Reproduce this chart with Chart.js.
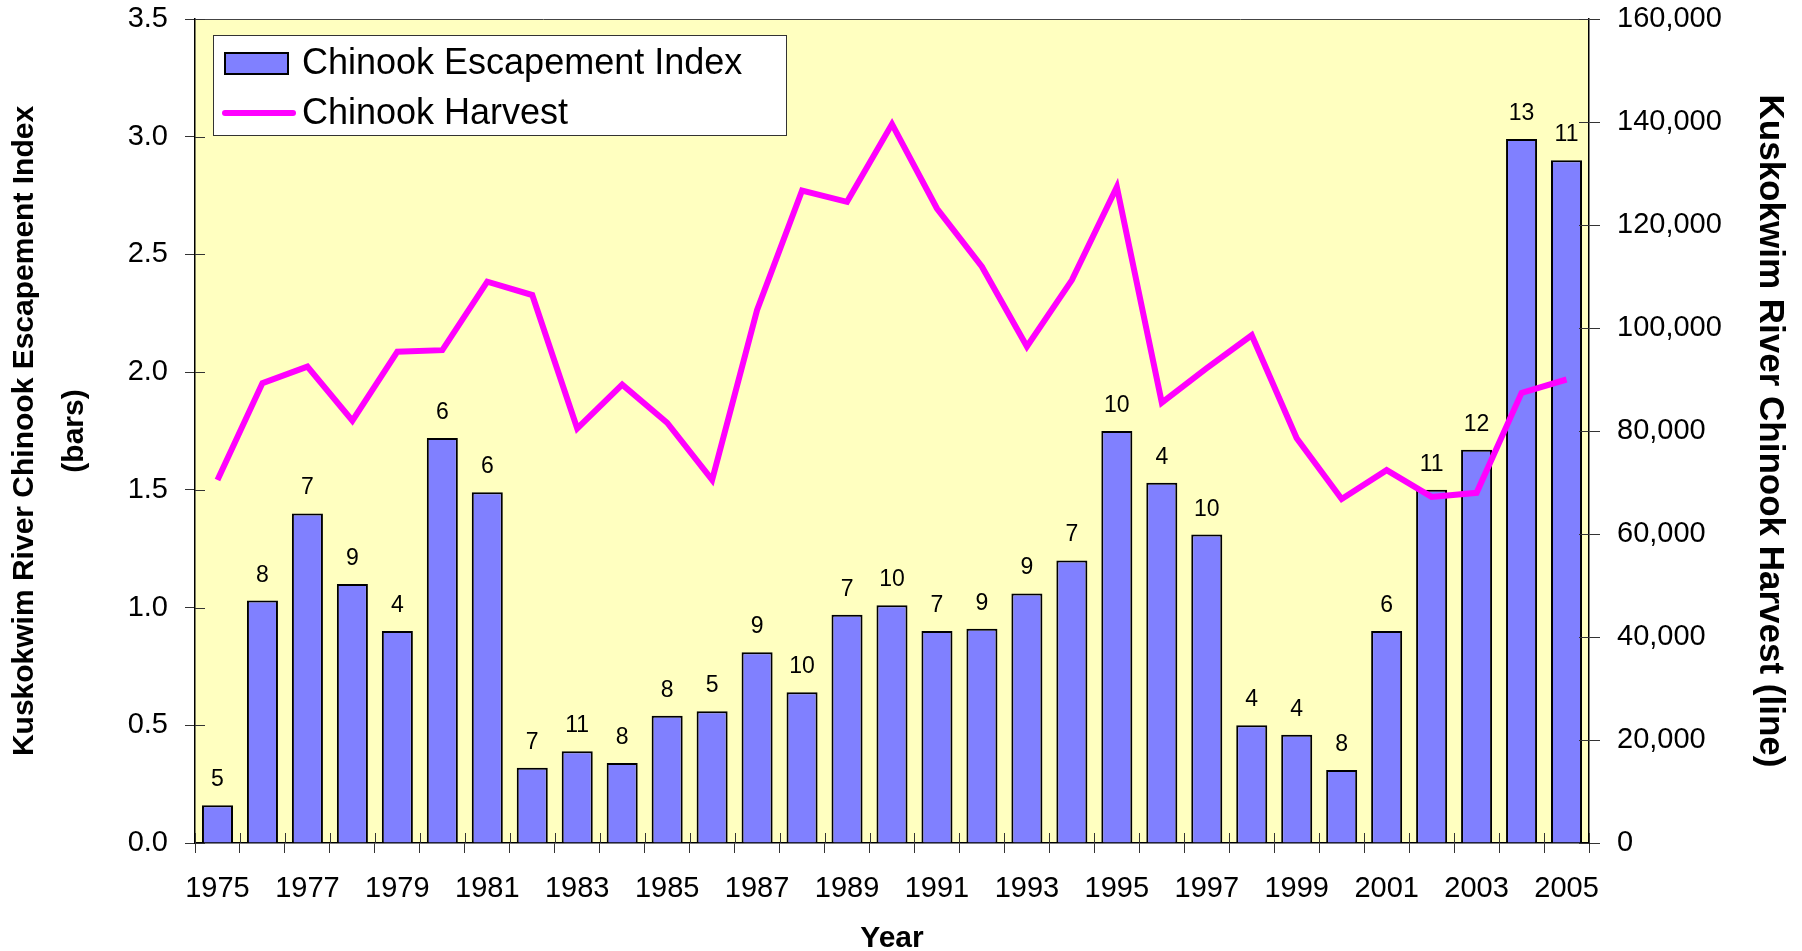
<!DOCTYPE html>
<html>
<head>
<meta charset="utf-8">
<title>Kuskokwim River Chinook</title>
<script src="https://cdn.jsdelivr.net/npm/chart.js@4.4.0/dist/chart.umd.min.js"></script>
<style>
    body { margin: 0; background: #ffffff; }
    #chart { display: block; }
</style>
</head>
<body>
<canvas id="chart" width="1802" height="951"></canvas>
<script>
var years = ['1975', '1976', '1977', '1978', '1979', '1980', '1981', '1982', '1983', '1984',
    '1985', '1986', '1987', '1988', '1989', '1990', '1991', '1992', '1993', '1994',
    '1995', '1996', '1997', '1998', '1999', '2000', '2001', '2002', '2003', '2004', '2005'];
var escapementIndex = [0.16, 1.03, 1.40, 1.10, 0.90, 1.72, 1.49, 0.32, 0.39, 0.34,
    0.54, 0.56, 0.81, 0.64, 0.97, 1.01, 0.90, 0.91, 1.06, 1.20,
    1.75, 1.53, 1.31, 0.50, 0.46, 0.31, 0.90, 1.50, 1.67, 2.99, 2.90];
var barLabels = [5, 8, 7, 9, 4, 6, 6, 7, 11, 8, 8, 5, 9, 10, 7, 10, 7, 9, 9, 7,
    10, 4, 10, 4, 4, 8, 6, 11, 12, 13, 11];
var harvest = [70500, 89300, 92500, 82000, 95400, 95700, 109000, 106400, 80500, 89000,
    81600, 70500, 103500, 126700, 124500, 139600, 123200, 111900, 96400, 109300,
    127400, 85500, 92200, 98600, 78600, 66800, 72400, 67200, 68000, 87400, 90000];
var leftTicks = [0, 0.5, 1.0, 1.5, 2.0, 2.5, 3.0, 3.5];
var rightTicks = [0, 20000, 40000, 60000, 80000, 100000, 120000, 140000, 160000];

var barColor = '#8080ff';
var lineColor = '#ff00ff';
var fontFamily = '"Liberation Sans", Arial, sans-serif';

// keep the y axes from pushing the plot area down
function noScalePadding(scale) {
    scale.paddingTop = 0;
    scale.paddingBottom = 0;
}

// yellow plot background and top border
var plotBackground = {
    id: 'plotBackground',
    beforeDraw: function (chart) {
        var ctx = chart.ctx, a = chart.chartArea;
        ctx.save();
        ctx.fillStyle = '#ffffc0';
        ctx.fillRect(a.left, a.top, a.right - a.left, a.bottom - a.top);
        ctx.strokeStyle = '#444444';
        ctx.lineWidth = 1;
        ctx.beginPath();
        ctx.moveTo(a.left, a.top + 0.5);
        ctx.lineTo(a.right, a.top + 0.5);
        ctx.stroke();
        ctx.restore();
    }
};

// ticks reaching into the plot area as well (cross ticks)
var innerTicks = {
    id: 'innerTicks',
    afterDraw: function (chart) {
        var ctx = chart.ctx, a = chart.chartArea;
        var x = chart.scales.x, y = chart.scales.y, y1 = chart.scales.y1;
        ctx.save();
        ctx.strokeStyle = '#333333';
        ctx.lineWidth = 1;
        ctx.beginPath();
        var step = x.getPixelForValue(1) - x.getPixelForValue(0);
        for (var i = 0; i <= years.length; i++) {
            var px = Math.round(x.getPixelForValue(i) - step / 2) + 0.5;
            ctx.moveTo(px, a.bottom);
            ctx.lineTo(px, a.bottom - 10);
        }
        y.ticks.forEach(function (t) {
            var py = Math.round(y.getPixelForValue(t.value)) + 0.5;
            ctx.moveTo(a.left, py);
            ctx.lineTo(a.left + 10, py);
        });
        y1.ticks.forEach(function (t) {
            var py = Math.round(y1.getPixelForValue(t.value)) + 0.5;
            ctx.moveTo(a.right, py);
            ctx.lineTo(a.right - 10, py);
        });
        ctx.stroke();
        ctx.restore();
    }
};

// numbers above the bars
var barNumbers = {
    id: 'barNumbers',
    afterDatasetsDraw: function (chart) {
        var ctx = chart.ctx;
        var meta = chart.getDatasetMeta(0);
        ctx.save();
        ctx.fillStyle = '#000000';
        ctx.font = '23px ' + fontFamily;
        ctx.textAlign = 'center';
        ctx.textBaseline = 'alphabetic';
        meta.data.forEach(function (bar, i) {
            ctx.fillText(String(barLabels[i]), bar.x, bar.y - 19);
        });
        ctx.restore();
    }
};

// boxed legend in the upper left of the plot
var boxLegend = {
    id: 'boxLegend',
    afterDraw: function (chart) {
        var ctx = chart.ctx, a = chart.chartArea;
        var bx = a.left + 18, by = a.top + 16;
        ctx.save();
        ctx.fillStyle = '#ffffff';
        ctx.fillRect(bx, by, 573, 100);
        ctx.strokeStyle = '#333333';
        ctx.lineWidth = 1;
        ctx.strokeRect(bx + 0.5, by + 0.5, 573, 100);

        ctx.fillStyle = barColor;
        ctx.fillRect(bx + 12, by + 18, 63, 21);
        ctx.strokeStyle = '#000000';
        ctx.lineWidth = 2;
        ctx.strokeRect(bx + 12, by + 18, 63, 21);

        ctx.strokeStyle = lineColor;
        ctx.lineWidth = 6;
        ctx.lineCap = 'round';
        ctx.beginPath();
        ctx.moveTo(bx + 12, by + 78);
        ctx.lineTo(bx + 80, by + 78);
        ctx.stroke();

        ctx.fillStyle = '#000000';
        ctx.font = '36px ' + fontFamily;
        ctx.textAlign = 'left';
        ctx.textBaseline = 'middle';
        ctx.fillText(chart.data.datasets[0].label, bx + 89, by + 29);
        ctx.fillText(chart.data.datasets[1].label, bx + 89, by + 79);
        ctx.restore();
    }
};

var ctx = document.getElementById('chart').getContext('2d');
var myChart = new Chart(ctx, {
    type: 'bar',
    data: {
        labels: years,
        datasets: [
            {
                type: 'bar',
                label: 'Chinook Escapement Index',
                data: escapementIndex,
                backgroundColor: barColor,
                borderColor: '#000000',
                borderWidth: 2,
                borderSkipped: 'bottom',
                barPercentage: 0.69,
                categoryPercentage: 1.0,
                yAxisID: 'y',
                order: 2
            },
            {
                type: 'line',
                label: 'Chinook Harvest',
                data: harvest,
                borderColor: lineColor,
                borderWidth: 6,
                pointRadius: 0,
                tension: 0,
                fill: false,
                yAxisID: 'y1',
                order: 1
            }
        ]
    },
    options: {
        responsive: false,
        animation: false,
        devicePixelRatio: 1,
        layout: { padding: { top: 19, left: 0, right: 0, bottom: 0 } },
        plugins: {
            legend: { display: false },
            tooltip: { enabled: false }
        },
        scales: {
            x: {
                offset: true,
                grid: { offset: true, drawOnChartArea: false, drawTicks: true, tickLength: 10, color: '#333333' },
                border: { display: true, color: '#000000', width: 1.5 },
                ticks: {
                    autoSkip: false,
                    maxRotation: 0,
                    padding: 19,
                    color: '#000000',
                    font: { family: fontFamily, size: 29 },
                    callback: function (val, idx) {
                        return idx % 2 === 0 ? years[idx] : '';
                    }
                },
                title: {
                    display: true,
                    text: 'Year',
                    color: '#000000',
                    padding: 0,
                    font: { family: fontFamily, size: 30, weight: 'bold', lineHeight: 0.8 }
                },
                afterFit: function (scale) { scale.height = 108; }
            },
            y: {
                position: 'left',
                min: 0,
                max: 3.5,
                afterBuildTicks: function (scale) {
                    scale.ticks = leftTicks.map(function (v) { return { value: v }; });
                },
                grid: { drawOnChartArea: false, drawTicks: true, tickLength: 10, color: '#333333' },
                border: { display: true, color: '#000000', width: 1.5 },
                ticks: {
                    padding: 17,
                    color: '#000000',
                    font: { family: fontFamily, size: 29 },
                    callback: function (v) { return Number(v).toFixed(1); }
                },
                title: {
                    display: true,
                    text: ['Kuskokwim River Chinook Escapement Index', '(bars)'],
                    color: '#000000',
                    padding: 0,
                    font: { family: fontFamily, size: 30, weight: 'bold', lineHeight: 1.65 }
                },
                afterFit: function (scale) {
                    scale.width = 195;
                    noScalePadding(scale);
                }
            },
            y1: {
                position: 'right',
                min: 0,
                max: 160000,
                afterBuildTicks: function (scale) {
                    scale.ticks = rightTicks.map(function (v) { return { value: v }; });
                },
                grid: { drawOnChartArea: false, drawTicks: true, tickLength: 11, color: '#333333' },
                border: { display: true, color: '#000000', width: 1.5 },
                ticks: {
                    padding: 17,
                    color: '#000000',
                    font: { family: fontFamily, size: 29 },
                    callback: function (v) { return Number(v).toLocaleString('en-US'); }
                },
                title: {
                    display: true,
                    text: 'Kuskokwim River Chinook Harvest (line)',
                    color: '#000000',
                    padding: { top: 11, bottom: 0 },
                    font: { family: fontFamily, size: 35, weight: 'bold', lineHeight: 1.2 }
                },
                afterFit: function (scale) {
                    scale.width = 213;
                    noScalePadding(scale);
                }
            }
        }
    },
    plugins: [plotBackground, barNumbers, innerTicks, boxLegend]
});
</script>
</body>
</html>
